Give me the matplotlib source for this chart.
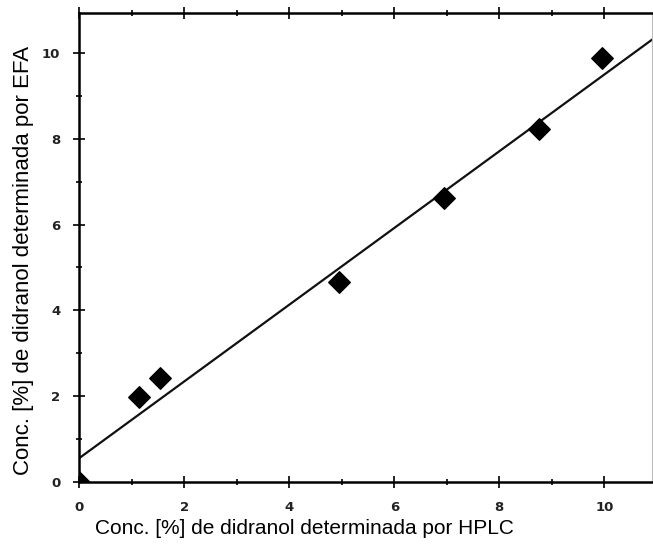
import matplotlib
matplotlib.use('Agg')
import matplotlib.pyplot as plt
import numpy as np

# HPLC vs EFA concentrations (%)
hplc = [0.0, 1.15, 1.55, 4.95, 6.95, 8.75, 9.95]
efa = [0.0, 1.98, 2.42, 4.65, 6.62, 8.22, 9.88]

# fitted line
intercept = 0.55
slope = 0.895

major_ticks = [0, 2, 4, 6, 8, 10]
minor_ticks = [1, 3, 5, 7, 9]

fig = plt.figure(figsize=(6.53, 5.47), dpi=100)
ax = fig.add_axes([0.121, 0.119, 0.877, 0.857])

xfit = np.array([0, 11])
ax.plot(xfit, intercept + slope * xfit, color='#111111', lw=1.6)
ax.scatter(hplc, efa, marker='D', s=120, color='black', zorder=3, clip_on=True)

ax.set_xlim(0, 10.9)
ax.set_ylim(0, 10.93)
ax.set_xticks(major_ticks)
ax.set_yticks(major_ticks)
ax.set_xticks(minor_ticks, minor=True)
ax.set_yticks(minor_ticks, minor=True)
# right-hand ticks are barely visible in the original, so leave them off
ax.tick_params(which='both', direction='inout', width=1.2, labelsize=9.5,
               top=True, right=False, pad=9)
ax.tick_params(which='major', length=9)
ax.tick_params(which='minor', length=4)
for lab in ax.get_xticklabels() + ax.get_yticklabels():
    lab.set_fontweight('bold')
    lab.set_color('#222222')

for side in ['left', 'bottom', 'top']:
    ax.spines[side].set_linewidth(1.8)
ax.spines['right'].set_linewidth(0.8)
ax.spines['right'].set_color('#bbbbbb')

fig.text(304 / 653, 1 - 528 / 547, 'Conc. [%] de didranol determinada por HPLC',
         fontsize=15, family='Liberation Sans', ha='center', va='center')
fig.text(24 / 653, 1 - 260 / 547, 'Conc. [%] de didranol determinada por EFA',
         fontsize=16, family='Liberation Sans', ha='center', va='center',
         rotation=90)

fig.savefig('out.png', dpi=100)
